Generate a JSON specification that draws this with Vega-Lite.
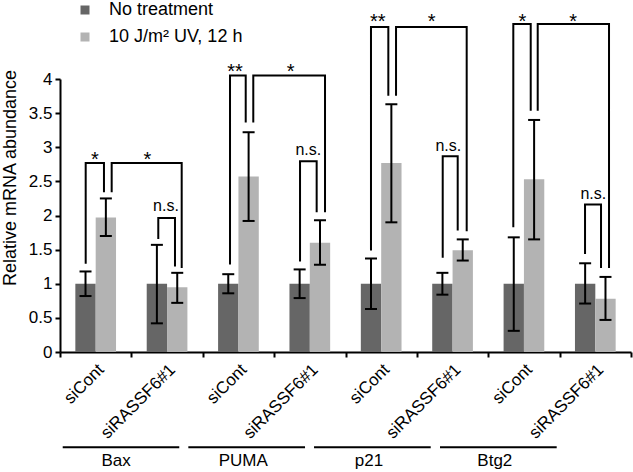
{
  "$schema": "https://vega.github.io/schema/vega-lite/v6.json",
  "width": 571,
  "height": 273,
  "autosize": "none",
  "padding": {"left": 60, "top": 79, "right": 2, "bottom": 120},
  "background": "white",
  "config": {
    "view": {"stroke": null},
    "font": "Liberation Sans",
    "axis": {"domainColor": "black", "tickColor": "black", "labelColor": "black", "titleColor": "black", "grid": false, "labelFont": "Liberation Sans", "titleFont": "Liberation Sans"},
    "axisY": {
      "labelFontSize": 17, "tickSize": 5, "tickWidth": 2, "domainWidth": 2, "labelPadding": 3,
      "titleFontSize": 18, "titleFontWeight": "normal",
      "titleAngle": -90, "titleX": -45, "titleY": 98.5, "titleAlign": "center", "titleBaseline": "alphabetic"
    },
    "legend": {"labelFont": "Liberation Sans"},
    "text": {"font": "Liberation Sans"}
  },
  "datasets": {
    "bars": [
      {"cond": "Bax|siCont", "treatment": "No treatment", "mean": 1, "lo": 0.82, "hi": 1.18},
      {"cond": "Bax|siCont", "treatment": "10 J/m² UV, 12 h", "mean": 1.97, "lo": 1.70, "hi": 2.25},
      {"cond": "Bax|siRASSF6#1", "treatment": "No treatment", "mean": 1, "lo": 0.42, "hi": 1.57},
      {"cond": "Bax|siRASSF6#1", "treatment": "10 J/m² UV, 12 h", "mean": 0.95, "lo": 0.72, "hi": 1.16},
      {"cond": "PUMA|siCont", "treatment": "No treatment", "mean": 1, "lo": 0.86, "hi": 1.14},
      {"cond": "PUMA|siCont", "treatment": "10 J/m² UV, 12 h", "mean": 2.57, "lo": 1.92, "hi": 3.22},
      {"cond": "PUMA|siRASSF6#1", "treatment": "No treatment", "mean": 1, "lo": 0.79, "hi": 1.21},
      {"cond": "PUMA|siRASSF6#1", "treatment": "10 J/m² UV, 12 h", "mean": 1.60, "lo": 1.28, "hi": 1.93},
      {"cond": "p21|siCont", "treatment": "No treatment", "mean": 1, "lo": 0.63, "hi": 1.37},
      {"cond": "p21|siCont", "treatment": "10 J/m² UV, 12 h", "mean": 2.77, "lo": 1.90, "hi": 3.63},
      {"cond": "p21|siRASSF6#1", "treatment": "No treatment", "mean": 1, "lo": 0.84, "hi": 1.16},
      {"cond": "p21|siRASSF6#1", "treatment": "10 J/m² UV, 12 h", "mean": 1.49, "lo": 1.34, "hi": 1.65},
      {"cond": "Btg2|siCont", "treatment": "No treatment", "mean": 1, "lo": 0.31, "hi": 1.68},
      {"cond": "Btg2|siCont", "treatment": "10 J/m² UV, 12 h", "mean": 2.53, "lo": 1.65, "hi": 3.40},
      {"cond": "Btg2|siRASSF6#1", "treatment": "No treatment", "mean": 1, "lo": 0.71, "hi": 1.30},
      {"cond": "Btg2|siRASSF6#1", "treatment": "10 J/m² UV, 12 h", "mean": 0.78, "lo": 0.47, "hi": 1.10}
    ],
    "brackets": [
      {"bid": "Bax1", "k": 1, "x": 0.360, "y": 1.306}, {"bid": "Bax1", "k": 2, "x": 0.360, "y": 2.770}, {"bid": "Bax1", "k": 3, "x": 0.616, "y": 2.770}, {"bid": "Bax1", "k": 4, "x": 0.616, "y": 2.354},
      {"bid": "Bax2", "k": 1, "x": 0.724, "y": 2.354}, {"bid": "Bax2", "k": 2, "x": 0.724, "y": 2.770}, {"bid": "Bax2", "k": 3, "x": 1.705, "y": 2.770}, {"bid": "Bax2", "k": 4, "x": 1.705, "y": 1.247},
      {"bid": "Bax3", "k": 1, "x": 1.377, "y": 1.672}, {"bid": "Bax3", "k": 2, "x": 1.377, "y": 1.965}, {"bid": "Bax3", "k": 3, "x": 1.611, "y": 1.965}, {"bid": "Bax3", "k": 4, "x": 1.611, "y": 1.266},
      {"bid": "PUMA1", "k": 1, "x": 2.382, "y": 1.296}, {"bid": "PUMA1", "k": 2, "x": 2.382, "y": 4.053}, {"bid": "PUMA1", "k": 3, "x": 2.602, "y": 4.053}, {"bid": "PUMA1", "k": 4, "x": 2.602, "y": 3.379},
      {"bid": "PUMA2", "k": 1, "x": 2.708, "y": 3.379}, {"bid": "PUMA2", "k": 2, "x": 2.708, "y": 4.053}, {"bid": "PUMA2", "k": 3, "x": 3.713, "y": 4.053}, {"bid": "PUMA2", "k": 4, "x": 3.713, "y": 2.061},
      {"bid": "PUMA3", "k": 1, "x": 3.363, "y": 1.340}, {"bid": "PUMA3", "k": 2, "x": 3.363, "y": 2.794}, {"bid": "PUMA3", "k": 3, "x": 3.596, "y": 2.794}, {"bid": "PUMA3", "k": 4, "x": 3.596, "y": 2.061},
      {"bid": "p211", "k": 1, "x": 4.357, "y": 1.501}, {"bid": "p211", "k": 2, "x": 4.357, "y": 4.761}, {"bid": "p211", "k": 3, "x": 4.600, "y": 4.761}, {"bid": "p211", "k": 4, "x": 4.600, "y": 3.770},
      {"bid": "p212", "k": 1, "x": 4.708, "y": 3.770}, {"bid": "p212", "k": 2, "x": 4.708, "y": 4.761}, {"bid": "p212", "k": 3, "x": 5.698, "y": 4.761}, {"bid": "p212", "k": 4, "x": 5.698, "y": 1.783},
      {"bid": "p213", "k": 1, "x": 5.362, "y": 1.394}, {"bid": "p213", "k": 2, "x": 5.362, "y": 2.867}, {"bid": "p213", "k": 3, "x": 5.572, "y": 2.867}, {"bid": "p213", "k": 4, "x": 5.572, "y": 1.794},
      {"bid": "Btg21", "k": 1, "x": 6.351, "y": 1.842}, {"bid": "Btg21", "k": 2, "x": 6.351, "y": 4.805}, {"bid": "Btg21", "k": 3, "x": 6.595, "y": 4.805}, {"bid": "Btg21", "k": 4, "x": 6.595, "y": 3.551},
      {"bid": "Btg22", "k": 1, "x": 6.693, "y": 3.551}, {"bid": "Btg22", "k": 2, "x": 6.693, "y": 4.805}, {"bid": "Btg22", "k": 3, "x": 7.692, "y": 4.805}, {"bid": "Btg22", "k": 4, "x": 7.692, "y": 1.247},
      {"bid": "Btg23", "k": 1, "x": 7.356, "y": 1.452}, {"bid": "Btg23", "k": 2, "x": 7.356, "y": 2.160}, {"bid": "Btg23", "k": 3, "x": 7.580, "y": 2.160}, {"bid": "Btg23", "k": 4, "x": 7.580, "y": 1.247}
    ],
    "notes": [
      {"t": "*", "x": 0.49, "y": 2.72}, {"t": "*", "x": 1.223, "y": 2.72}, {"t": "n.s.", "x": 1.485, "y": 2.07},
      {"t": "**", "x": 2.452, "y": 4.01}, {"t": "*", "x": 3.232, "y": 4.01}, {"t": "n.s.", "x": 3.479, "y": 2.88},
      {"t": "**", "x": 4.451, "y": 4.74}, {"t": "*", "x": 5.208, "y": 4.74}, {"t": "n.s.", "x": 5.440, "y": 2.95},
      {"t": "*", "x": 6.477, "y": 4.74}, {"t": "*", "x": 7.191, "y": 4.74}, {"t": "n.s.", "x": 7.472, "y": 2.24}
    ],
    "genes": [
      {"gene": "Bax", "x0": 0.038, "x1": 1.671, "xt": 0.785, "yl": -1.394, "yt": -1.672},
      {"gene": "PUMA", "x0": 1.798, "x1": 3.433, "xt": 2.568, "yl": -1.394, "yt": -1.672},
      {"gene": "p21", "x0": 3.559, "x1": 5.194, "xt": 4.329, "yl": -1.394, "yt": -1.672},
      {"gene": "Btg2", "x0": 5.324, "x1": 6.959, "xt": 6.092, "yl": -1.394, "yt": -1.672}
    ]
  },
  "layer": [
    {
      "data": {"name": "bars"},
      "encoding": {
        "x": {
          "field": "cond", "type": "nominal", "sort": null,
          "scale": {"paddingInner": 0, "paddingOuter": 0},
          "axis": {
            "orient": "bottom", "title": null, "ticks": false, "domain": false,
            "labelAngle": -45, "labelAlign": "right", "labelBaseline": "top",
            "labelPadding": 9, "labelFontSize": 17, "labelExpr": "split(datum.label, '|')[1]"
          }
        },
        "xOffset": {
          "field": "treatment", "type": "nominal", "sort": null,
          "scale": {"domain": ["No treatment", "10 J/m² UV, 12 h"], "paddingInner": 0, "paddingOuter": 0.754}
        }
      },
      "layer": [
        {
          "mark": {"type": "bar", "strokeWidth": 0},
          "encoding": {
            "y": {
              "field": "mean", "type": "quantitative", "title": "Relative mRNA abundance",
              "scale": {"domain": [0, 4], "nice": false},
              "axis": {"values": [0, 0.5, 1, 1.5, 2, 2.5, 3, 3.5, 4], "format": "~g"}
            },
            "color": {
              "field": "treatment", "type": "nominal",
              "scale": {"domain": ["No treatment", "10 J/m² UV, 12 h"], "range": ["#666666", "#b3b3b3"]},
              "legend": {
                "orient": "none", "legendX": 16, "legendY": -78, "title": null, "padding": 0,
                "symbolType": "square", "symbolSize": 81, "symbolStrokeWidth": 0,
                "labelFontSize": 18, "labelColor": "black", "rowPadding": 9, "labelOffset": 15
              }
            }
          }
        },
        {
          "mark": {"type": "rule", "strokeWidth": 2, "color": "black"},
          "encoding": {
            "y": {"field": "lo", "type": "quantitative", "title": "Relative mRNA abundance", "scale": {"domain": [0, 4], "nice": false}, "axis": {"values": [0, 0.5, 1, 1.5, 2, 2.5, 3, 3.5, 4], "format": "~g"}},
            "y2": {"field": "hi"}
          }
        },
        {
          "mark": {"type": "tick", "size": 12, "thickness": 2, "color": "black", "opacity": 1},
          "encoding": {"y": {"field": "lo", "type": "quantitative", "title": "Relative mRNA abundance", "scale": {"domain": [0, 4], "nice": false}, "axis": {"values": [0, 0.5, 1, 1.5, 2, 2.5, 3, 3.5, 4], "format": "~g"}}}
        },
        {
          "mark": {"type": "tick", "size": 12, "thickness": 2, "color": "black", "opacity": 1},
          "encoding": {"y": {"field": "hi", "type": "quantitative", "title": "Relative mRNA abundance", "scale": {"domain": [0, 4], "nice": false}, "axis": {"values": [0, 0.5, 1, 1.5, 2, 2.5, 3, 3.5, 4], "format": "~g"}}}
        }
      ]
    },
    {
      "layer": [
        {
          "data": {"name": "brackets"},
          "mark": {"type": "line", "strokeWidth": 2, "color": "black", "strokeJoin": "miter", "strokeCap": "square"},
          "encoding": {
            "x": {
              "field": "x", "type": "quantitative", "title": null,
              "scale": {"domain": [0, 8], "nice": false, "zero": false},
              "axis": {"orient": "bottom", "values": [0, 1, 2, 3, 4, 5, 6, 7, 8], "labels": false, "tickSize": 5, "tickWidth": 2, "domainWidth": 2}
            },
            "y": {"field": "y", "type": "quantitative", "title": "Relative mRNA abundance", "scale": {"domain": [0, 4], "nice": false}, "axis": {"values": [0, 0.5, 1, 1.5, 2, 2.5, 3, 3.5, 4], "format": "~g"}},
            "detail": {"field": "bid"},
            "order": {"field": "k", "type": "quantitative"}
          }
        },
        {
          "data": {"name": "notes"},
          "transform": [{"filter": "datum.t != 'n.s.'"}],
          "mark": {"type": "text", "fontSize": 20, "color": "black", "baseline": "alphabetic", "align": "center"},
          "encoding": {
            "x": {"field": "x", "type": "quantitative", "title": null, "scale": {"domain": [0, 8], "nice": false, "zero": false}, "axis": {"orient": "bottom", "values": [0, 1, 2, 3, 4, 5, 6, 7, 8], "labels": false, "tickSize": 5, "tickWidth": 2, "domainWidth": 2}},
            "y": {"field": "y", "type": "quantitative", "title": "Relative mRNA abundance", "scale": {"domain": [0, 4], "nice": false}, "axis": {"values": [0, 0.5, 1, 1.5, 2, 2.5, 3, 3.5, 4], "format": "~g"}},
            "text": {"field": "t"}
          }
        },
        {
          "data": {"name": "notes"},
          "transform": [{"filter": "datum.t == 'n.s.'"}],
          "mark": {"type": "text", "fontSize": 16, "color": "black", "baseline": "alphabetic", "align": "center"},
          "encoding": {
            "x": {"field": "x", "type": "quantitative", "title": null, "scale": {"domain": [0, 8], "nice": false, "zero": false}, "axis": {"orient": "bottom", "values": [0, 1, 2, 3, 4, 5, 6, 7, 8], "labels": false, "tickSize": 5, "tickWidth": 2, "domainWidth": 2}},
            "y": {"field": "y", "type": "quantitative", "title": "Relative mRNA abundance", "scale": {"domain": [0, 4], "nice": false}, "axis": {"values": [0, 0.5, 1, 1.5, 2, 2.5, 3, 3.5, 4], "format": "~g"}},
            "text": {"field": "t"}
          }
        },
        {
          "data": {"name": "genes"},
          "mark": {"type": "rule", "strokeWidth": 2, "color": "black"},
          "encoding": {
            "x": {"field": "x0", "type": "quantitative", "title": null, "scale": {"domain": [0, 8], "nice": false, "zero": false}, "axis": {"orient": "bottom", "values": [0, 1, 2, 3, 4, 5, 6, 7, 8], "labels": false, "tickSize": 5, "tickWidth": 2, "domainWidth": 2}},
            "x2": {"field": "x1"},
            "y": {"field": "yl", "type": "quantitative", "title": "Relative mRNA abundance", "scale": {"domain": [0, 4], "nice": false}, "axis": {"values": [0, 0.5, 1, 1.5, 2, 2.5, 3, 3.5, 4], "format": "~g"}}
          }
        },
        {
          "data": {"name": "genes"},
          "mark": {"type": "text", "fontSize": 17, "color": "black", "baseline": "alphabetic", "align": "center"},
          "encoding": {
            "x": {"field": "xt", "type": "quantitative", "title": null, "scale": {"domain": [0, 8], "nice": false, "zero": false}, "axis": {"orient": "bottom", "values": [0, 1, 2, 3, 4, 5, 6, 7, 8], "labels": false, "tickSize": 5, "tickWidth": 2, "domainWidth": 2}},
            "y": {"field": "yt", "type": "quantitative", "title": "Relative mRNA abundance", "scale": {"domain": [0, 4], "nice": false}, "axis": {"values": [0, 0.5, 1, 1.5, 2, 2.5, 3, 3.5, 4], "format": "~g"}},
            "text": {"field": "gene"}
          }
        }
      ]
    }
  ],
  "resolve": {"scale": {"x": "independent"}, "axis": {"x": "independent"}}
}
